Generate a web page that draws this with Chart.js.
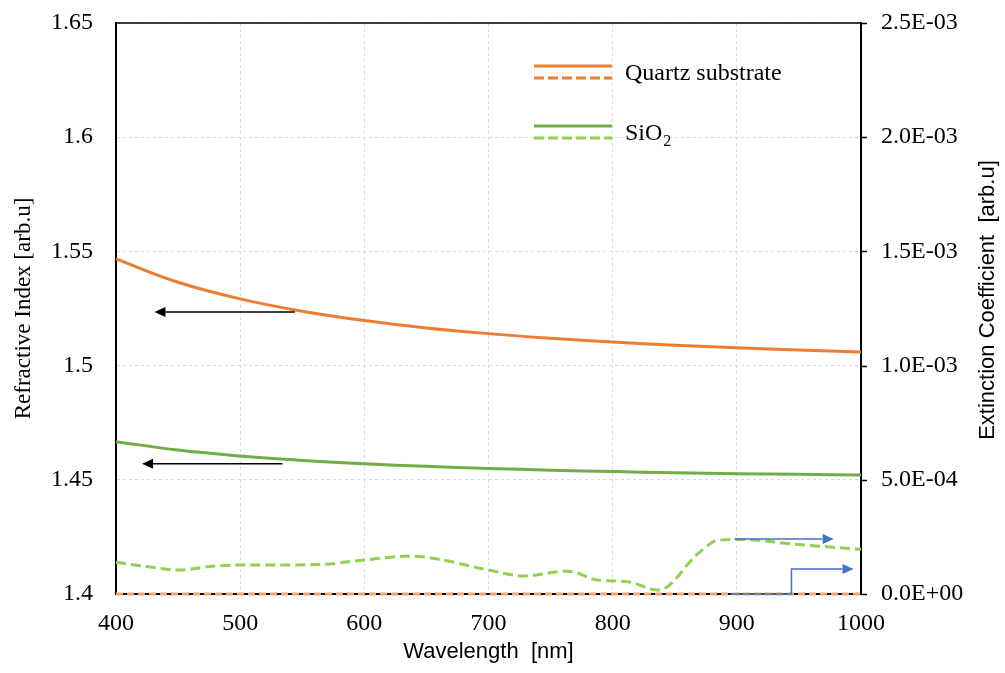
<!DOCTYPE html>
<html>
<head>
<meta charset="utf-8">
<script src="https://cdn.jsdelivr.net/npm/chart.js@4.4.1/dist/chart.umd.min.js"></script>
<style>
  html, body { margin: 0; padding: 0; background: #fff; }
</style>
</head>
<body>
<canvas id="myChart" width="1005" height="673"></canvas>
<script>
// wavelength grid for the refractive index curves [nm]
const wavelength = [400, 450, 500, 550, 600, 650, 700, 750, 800, 850, 900, 950, 1000];
const quartzN = [1.5467, 1.5365, 1.5292, 1.5238, 1.5197, 1.5165, 1.5140, 1.5120, 1.5103, 1.5089, 1.5078, 1.5068, 1.5060];
const sio2N = [1.4667, 1.4630, 1.4604, 1.4585, 1.4570, 1.4559, 1.4550, 1.4542, 1.4536, 1.4531, 1.4527, 1.4524, 1.4521];

// extinction coefficient (right axis)
const sio2KWavelength = [400, 425, 451, 475, 500, 530, 567, 600, 638, 660, 700, 728, 764, 788, 812, 837, 869, 885, 901, 949, 1000];
const sio2K = [1.39e-4, 1.20e-4, 1.05e-4, 1.20e-4, 1.27e-4, 1.27e-4, 1.30e-4, 1.49e-4, 1.66e-4, 1.52e-4, 1.05e-4, 0.79e-4,
  1.00e-4, 0.61e-4, 0.54e-4, 0.17e-4, 1.78e-4, 2.36e-4, 2.39e-4, 2.17e-4, 1.95e-4];
const quartzKWavelength = [400, 1000];
const quartzK = [0, 0];

// tick labels
const xTicks = [400, 500, 600, 700, 800, 900, 1000];
const nTicks = [1.4, 1.45, 1.5, 1.55, 1.6, 1.65];
const kTicks = [0, 5e-4, 1e-3, 1.5e-3, 2e-3, 2.5e-3];

// arrows pointing at the axis each curve belongs to (data units)
const arrows = [
  { axis: 'y', color: '#000000', points: [[544, 1.5235], [431, 1.5235]] },
  { axis: 'y', color: '#000000', points: [[534, 1.4570], [421, 1.4570]] },
  { axis: 'y1', color: '#4472C4', points: [[898, 2.41e-4], [978, 2.41e-4]] },
  { axis: 'y1', color: '#4472C4', points: [[895, 0], [944, 0], [944, 1.09e-4], [994, 1.09e-4]] },
];

const ORANGE = '#ED7D31';
const GREEN = '#70AD47';
const LIGHT_GREEN = '#92D050';
const SERIF = '"Liberation Serif", "Times New Roman", serif';
const SANS = '"Liberation Sans", Arial, sans-serif';
const CLEAR = 'rgba(0,0,0,0)';

function pairs(xs, ys) {
  return xs.map((x, i) => ({ x: x, y: ys[i] }));
}

function sci(v) {
  const parts = v.toExponential(1).split('e');
  const e = parseInt(parts[1], 10);
  return parts[0] + 'E' + (e < 0 ? '-' : '+') + String(Math.abs(e)).padStart(2, '0');
}

function drawArrow(ctx, pts, color) {
  const head = 11, half = 5;
  const n = pts.length;
  const [tx, ty] = pts[n - 1];
  const [px, py] = pts[n - 2];
  const len = Math.hypot(tx - px, ty - py);
  const ux = (tx - px) / len, uy = (ty - py) / len;
  ctx.strokeStyle = color;
  ctx.fillStyle = color;
  ctx.lineWidth = 1.5;
  ctx.beginPath();
  ctx.moveTo(pts[0][0], pts[0][1]);
  for (let i = 1; i < n - 1; i++) ctx.lineTo(pts[i][0], pts[i][1]);
  ctx.lineTo(tx - ux * head, ty - uy * head);
  ctx.stroke();
  ctx.beginPath();
  ctx.moveTo(tx, ty);
  ctx.lineTo(tx - ux * head - uy * half, ty - uy * head + ux * half);
  ctx.lineTo(tx - ux * head + uy * half, ty - uy * head - ux * half);
  ctx.closePath();
  ctx.fill();
}

const extras = {
  id: 'extras',
  afterDatasetsDraw(chart) {
    const { ctx, chartArea: a, scales } = chart;
    ctx.save();

    // top frame line
    ctx.strokeStyle = '#000';
    ctx.lineWidth = 1.5;
    ctx.beginPath();
    ctx.moveTo(a.left, a.top);
    ctx.lineTo(a.right, a.top);
    ctx.stroke();

    // short outward tick marks on the right axis
    ctx.lineWidth = 1.5;
    kTicks.forEach(v => {
      const y = Math.round(scales.y1.getPixelForValue(v)) + 0.5;
      ctx.beginPath();
      ctx.moveTo(a.right, y);
      ctx.lineTo(a.right + 6, y);
      ctx.stroke();
    });

    arrows.forEach(ar => {
      const pts = ar.points.map(p => [scales.x.getPixelForValue(p[0]), scales[ar.axis].getPixelForValue(p[1])]);
      drawArrow(ctx, pts, ar.color);
    });

    // legend
    const rows = [
      { solid: ORANGE, dashed: ORANGE, y: 66, text: 'Quartz substrate' },
      { solid: GREEN, dashed: LIGHT_GREEN, y: 126, text: 'SiO', sub: '2' },
    ];
    rows.forEach(r => {
      ctx.lineWidth = 3;
      ctx.setLineDash([]);
      ctx.strokeStyle = r.solid;
      ctx.beginPath(); ctx.moveTo(534, r.y); ctx.lineTo(612, r.y); ctx.stroke();
      ctx.setLineDash([10, 4]);
      ctx.strokeStyle = r.dashed;
      ctx.beginPath(); ctx.moveTo(534, r.y + 12); ctx.lineTo(612, r.y + 12); ctx.stroke();
      ctx.setLineDash([]);
      ctx.fillStyle = '#000';
      ctx.textAlign = 'left';
      ctx.textBaseline = 'alphabetic';
      ctx.font = '24px ' + SERIF;
      ctx.fillText(r.text, 625, r.y + 14);
      if (r.sub) {
        const w = ctx.measureText(r.text).width;
        ctx.font = '16px ' + SERIF;
        ctx.fillText(r.sub, 625 + w + 1, r.y + 20);
      }
    });

    // right axis title, reading bottom to top
    ctx.translate(988, 300);
    ctx.rotate(-Math.PI / 2);
    ctx.font = '22px ' + SANS;
    ctx.textAlign = 'center';
    ctx.textBaseline = 'middle';
    ctx.fillStyle = '#000';
    ctx.fillText('Extinction Coefficient  [arb.u]', 0, 0);
    ctx.restore();
  }
};

const lineBase = { pointRadius: 0, fill: false };

const data = {
  datasets: [
    Object.assign({ label: 'Quartz substrate n', data: pairs(wavelength, quartzN), borderColor: ORANGE, borderWidth: 3, tension: 0.4, yAxisID: 'y', order: 2 }, lineBase),
    Object.assign({ label: 'SiO2 n', data: pairs(wavelength, sio2N), borderColor: GREEN, borderWidth: 3, tension: 0.4, yAxisID: 'y', order: 2 }, lineBase),
    Object.assign({ label: 'SiO2 k', data: pairs(sio2KWavelength, sio2K), borderColor: LIGHT_GREEN, borderWidth: 3, borderDash: [10, 5], cubicInterpolationMode: 'monotone', yAxisID: 'y1', order: 1 }, lineBase),
    Object.assign({ label: 'Quartz substrate k', data: pairs(quartzKWavelength, quartzK), borderColor: '#F4A46E', borderWidth: 3, borderDash: [7, 4], clip: 4, yAxisID: 'y1', order: 0 }, lineBase),
  ],
};

Chart.defaults.color = '#000';

const myChart = new Chart('myChart', {
  type: 'line',
  data,
  options: {
    responsive: false,
    animation: false,
    devicePixelRatio: 1,
    layout: { padding: { top: 23, left: 0, right: 0, bottom: 0 } },
    plugins: { legend: { display: false }, tooltip: { enabled: false } },
    scales: {
      x: {
        type: 'linear',
        min: 400,
        max: 1000,
        afterBuildTicks: s => { s.ticks = xTicks.map(v => ({ value: v })); },
        afterFit: s => { s.height = 79; },
        ticks: { font: { family: SERIF, size: 24 }, padding: 15, maxRotation: 0, callback: v => String(v) },
        grid: { color: '#d9d9d9', drawTicks: false },
        border: { color: '#000', width: 2, dash: [3, 3] },
        title: { display: true, text: 'Wavelength  [nm]', font: { family: SANS, size: 22 }, padding: { top: 0, bottom: 8 } },
      },
      y: {
        position: 'left',
        min: 1.4,
        max: 1.65,
        afterBuildTicks: s => { s.ticks = nTicks.map(v => ({ value: v })); },
        afterFit: s => { s.width = 116; },
        ticks: { font: { family: SERIF, size: 24 }, padding: 0, callback: v => String(v) },
        grid: { color: '#d9d9d9', drawTicks: true, tickLength: 23, tickColor: CLEAR },
        border: { color: '#000', width: 2, dash: [3, 3] },
        title: { display: true, text: 'Refractive Index [arb.u]', font: { family: SERIF, size: 23 }, padding: { top: 10, bottom: 0 } },
      },
      y1: {
        position: 'right',
        min: 0,
        max: 0.0025,
        afterBuildTicks: s => { s.ticks = kTicks.map(v => ({ value: v })); },
        afterFit: s => { s.width = 144; },
        ticks: { font: { family: SERIF, size: 24 }, padding: 0, callback: v => sci(v) },
        grid: { drawOnChartArea: false, drawTicks: true, tickLength: 20, tickColor: CLEAR },
        border: { color: '#000', width: 2 },
      },
    },
  },
  plugins: [extras],
});
</script>
</body>
</html>
